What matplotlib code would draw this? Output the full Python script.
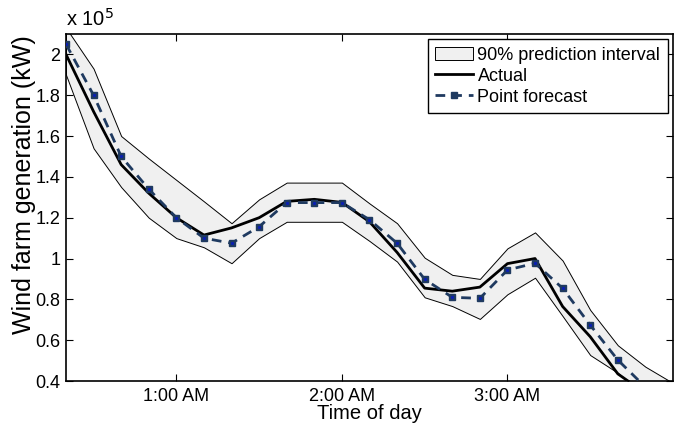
import matplotlib
matplotlib.use("Agg")
import matplotlib.pyplot as plt
import numpy as np

plt.rcParams['font.family'] = ['Liberation Sans', 'DejaVu Sans']

# time of day (minutes after midnight)
times = ["0:20", "0:30", "0:40", "0:50", "1:00", "1:10", "1:20", "1:30", "1:40", "1:50",
         "2:00", "2:10", "2:20", "2:30", "2:40", "2:50", "3:00", "3:10", "3:20", "3:30",
         "3:40", "3:50", "4:00"]
actual = [2.00, 1.72, 1.46, 1.32, 1.20, 1.115, 1.15, 1.20, 1.28, 1.29,
          1.275, 1.18, 1.03, 0.855, 0.84, 0.86, 0.975, 1.00, 0.765, 0.617,
          0.435, 0.34, 0.27]
forecast = [2.05, 1.80, 1.50, 1.34, 1.20, 1.10, 1.075, 1.156, 1.274, 1.274,
            1.274, 1.19, 1.075, 0.898, 0.81, 0.805, 0.944, 0.977, 0.854, 0.674,
            0.503, 0.37, 0.27]
upper = [2.13, 1.93, 1.60, 1.49, 1.385, 1.28, 1.173, 1.29, 1.372, 1.372,
         1.372, 1.27, 1.173, 1.004, 0.92, 0.90, 1.05, 1.128, 0.99, 0.748,
         0.575, 0.47, 0.39]
lower = [1.90, 1.54, 1.35, 1.20, 1.10, 1.055, 0.977, 1.10, 1.18, 1.18,
         1.18, 1.086, 0.985, 0.81, 0.767, 0.704, 0.825, 0.906, 0.718, 0.527,
         0.44, 0.33, 0.25]
xtick_minutes = [60, 120, 180]
xtick_labels = ["1:00 AM", "2:00 AM", "3:00 AM"]
ytick_values = [0.4, 0.6, 0.8, 1.0, 1.2, 1.4, 1.6, 1.8, 2.0]
ytick_labels = ["0.4", "0.6", "0.8", "1", "1.2", "1.4", "1.6", "1.8", "2"]

x = np.array([int(t.split(":")[0]) * 60 + int(t.split(":")[1]) for t in times])
scale = 1e5

fig = plt.figure(figsize=(6.79, 4.24), dpi=100)
ax = fig.add_axes([66/679, 1-381/424, (673-66)/679, (381-34)/424])

ax.fill_between(x, np.array(lower)*scale, np.array(upper)*scale, facecolor='#f0f0f0',
                edgecolor='black', linewidth=0.7, label='90% prediction interval', zorder=1)
ax.plot(x, np.array(actual)*scale, color='black', linewidth=2.0, label='Actual', zorder=3)
ax.plot(x, np.array(forecast)*scale, color='#1f3a60', linewidth=2.0, linestyle=(0, (3.5, 2.5)),
        marker='s', markersize=5, markerfacecolor='#1f3a60', markeredgecolor='#1f3a60',
        label='Point forecast', zorder=4)
ax.plot(x, np.array(forecast)*scale, linestyle='none', marker='s', markersize=1.2,
        color='#0a1fb0', zorder=5)

ax.set_xlim(x[0], x[-1])
ax.set_ylim(0.4*scale, 2.1*scale)
ax.set_xticks(xtick_minutes)
ax.set_xticklabels(xtick_labels)
ax.set_yticks(np.array(ytick_values)*scale)
ax.set_yticklabels(ytick_labels)
ax.tick_params(direction='in', length=5, width=0.8, top=True, right=True,
               labelsize=13, pad=4, colors='black')
ax.tick_params(axis='x', pad=5)
for s in ax.spines.values():
    s.set_linewidth(1.2)

ax.set_xlabel('Time of day', fontsize=14.5, labelpad=-1)
ax.set_ylabel('Wind farm generation (kW)', fontsize=18)
ax.yaxis.set_label_coords(-0.05, 0.565)

ax.text(0.0, 1.012, r'x 10$^{5}$', transform=ax.transAxes, fontsize=14.5,
        ha='left', va='bottom')

leg = ax.legend(loc='upper right', fontsize=13, frameon=True, fancybox=False,
                edgecolor='black', framealpha=1, handlelength=2.1, handletextpad=0.25,
                labelspacing=0.22, borderpad=0.4, borderaxespad=0.3, numpoints=1)
leg.get_frame().set_linewidth(1.0)

fig.savefig('out.png', dpi=100)
